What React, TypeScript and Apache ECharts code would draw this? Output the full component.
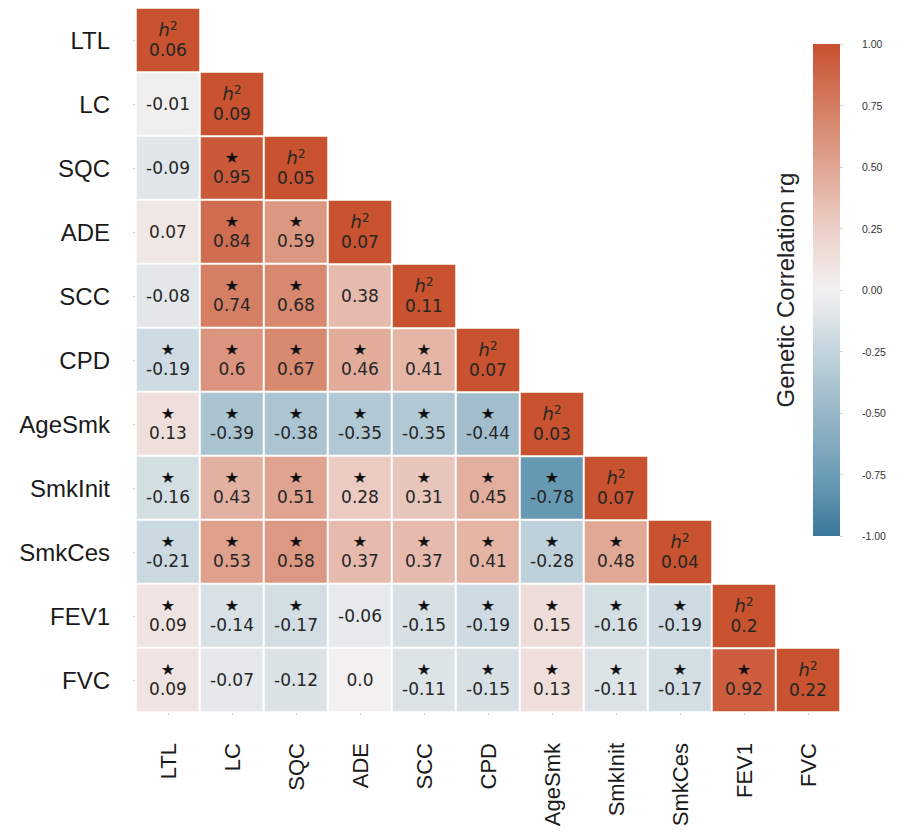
import React, { useEffect, useRef } from "react";
import * as echarts from "echarts";

const categories = ["LTL", "LC", "SQC", "ADE", "SCC", "CPD", "AgeSmk", "SmkInit", "SmkCes", "FEV1", "FVC"];
const heritability = [0.06, 0.09, 0.05, 0.07, 0.11, 0.07, 0.03, 0.07, 0.04, 0.2, 0.22];

// Lower-triangle genetic correlations, row by row (row i has i values: columns 0..i-1)
const rgRows: number[][] = [
  [],
  [-0.01],
  [-0.09, 0.95],
  [0.07, 0.84, 0.59],
  [-0.08, 0.74, 0.68, 0.38],
  [-0.19, 0.6, 0.67, 0.46, 0.41],
  [0.13, -0.39, -0.38, -0.35, -0.35, -0.44],
  [-0.16, 0.43, 0.51, 0.28, 0.31, 0.45, -0.78],
  [-0.21, 0.53, 0.58, 0.37, 0.37, 0.41, -0.28, 0.48],
  [0.09, -0.14, -0.17, -0.06, -0.15, -0.19, 0.15, -0.16, -0.19],
  [0.09, -0.07, -0.12, 0.0, -0.11, -0.15, 0.13, -0.11, -0.17, 0.92],
];

// Significance stars (1 = starred)
const sigRows: number[][] = [
  [],
  [0],
  [0, 1],
  [0, 1, 1],
  [0, 1, 1, 0],
  [1, 1, 1, 1, 1],
  [1, 1, 1, 1, 1, 1],
  [1, 1, 1, 1, 1, 1, 1],
  [1, 1, 1, 1, 1, 1, 1, 1],
  [1, 1, 1, 0, 1, 1, 1, 1, 1],
  [1, 0, 0, 0, 1, 1, 1, 1, 1, 1],
];

const colorbarTicks = [-1, -0.75, -0.5, -0.25, 0, 0.25, 0.5, 0.75, 1];
const paletteColors = ["#3c789a", "#6d9db6", "#98b7c7", "#c3d5de", "#f2f0f0", "#ecd0c8", "#e0a592", "#d47d62", "#c8502f"];
const diagColor = "#c9522f";

const fmt = (v: number) => (Number.isInteger(v) ? v.toFixed(1) : String(v));

export default function App() {
  const ref = useRef<HTMLDivElement>(null);

  useEffect(() => {
    if (!ref.current) return;
    const chart = echarts.init(ref.current, undefined, { renderer: "svg" });

    const offDiag: any[] = [];
    rgRows.forEach((row, i) => {
      row.forEach((v, j) => {
        const star = sigRows[i][j] === 1;
        offDiag.push({
          value: [j, i, v],
          label: { formatter: star ? `{star|★}\n{num|${fmt(v)}}` : `{num|${fmt(v)}}` },
        });
      });
    });
    const diag = heritability.map((h, i) => ({
      value: [i, i, h],
      label: { formatter: `{h|h}{sup|2}\n{num|${fmt(h)}}` },
    }));

    const rich = {
      star: { fontSize: 16, lineHeight: 18, color: "#111", fontFamily: "DejaVu Sans" },
      num: { fontSize: 17, lineHeight: 21, color: "#262626", fontFamily: "DejaVu Sans" },
      h: { fontSize: 18, lineHeight: 20, color: "#262626", fontStyle: "italic", fontFamily: "DejaVu Sans" },
      sup: { fontSize: 12, lineHeight: 12, color: "#262626", fontFamily: "DejaVu Sans", verticalAlign: "top" },
    };

    const cbTop = 44, cbHeight = 492, cbLeft = 813, cbWidth = 27;

    chart.setOption({
      animation: false,
      backgroundColor: "#ffffff",
      grid: [
        { left: 136, top: 8, width: 704, height: 704, outerBoundsMode: "none", containLabel: false },
        { left: cbLeft, top: cbTop, width: cbWidth, height: cbHeight, outerBoundsMode: "none", containLabel: false },
      ],
      xAxis: [
        {
          type: "category",
          data: categories,
          gridIndex: 0,
          position: "bottom",
          axisLine: { show: false },
          axisTick: { show: true, length: 3, alignWithLabel: true, lineStyle: { color: "#c8c8c8" } },
          axisLabel: { rotate: 90, fontSize: 22, color: "#1a1a1a", fontFamily: "Liberation Sans, Arial", margin: 31, interval: 0 },
          splitLine: { show: false },
        },
        { type: "category", data: [""], gridIndex: 1, show: false },
      ],
      yAxis: [
        {
          type: "category",
          data: categories,
          gridIndex: 0,
          inverse: true,
          axisLine: { show: false },
          axisTick: { show: true, length: 3, alignWithLabel: true, lineStyle: { color: "#c8c8c8" } },
          axisLabel: { fontSize: 24, color: "#1a1a1a", fontFamily: "Liberation Sans, Arial", margin: 26, interval: 0 },
          splitLine: { show: false },
        },
        {
          type: "value",
          gridIndex: 1,
          min: colorbarTicks[0],
          max: colorbarTicks[colorbarTicks.length - 1],
          interval: 0.25,
          position: "right",
          axisLine: { show: false },
          axisTick: { show: true, length: 3, inside: false, lineStyle: { color: "#d0d0d0" } },
          axisLabel: { formatter: (v: number) => v.toFixed(2), fontSize: 10.5, color: "#333", fontFamily: "Liberation Sans, Arial", margin: 22 },
          splitLine: { show: false },
        },
      ],
      visualMap: [
        {
          show: false,
          type: "continuous",
          min: -1,
          max: 1,
          seriesIndex: 0,
          dimension: 2,
          inRange: { color: paletteColors },
        },
        {
          show: false,
          type: "continuous",
          min: 0,
          max: 1,
          seriesIndex: 1,
          dimension: 2,
          inRange: { color: [diagColor, diagColor] },
        },
      ],
      graphic: [
        {
          type: "rect",
          shape: { x: cbLeft, y: cbTop, width: cbWidth, height: cbHeight },
          style: {
            fill: new echarts.graphic.LinearGradient(
              0, 0, 0, 1,
              paletteColors.slice().reverse().map((c, k) => ({ offset: k / (paletteColors.length - 1), color: c }))
            ),
          },
          z: 1,
        },
        {
          type: "text",
          x: 785,
          y: 290,
          rotation: Math.PI / 2,
          style: {
            text: "Genetic Correlation rg",
            fontSize: 24,
            fontFamily: "Liberation Sans, Arial",
            fill: "#222",
            align: "center",
            verticalAlign: "middle",
          },
        },
      ],
      series: [
        {
          type: "heatmap",
          xAxisIndex: 0,
          yAxisIndex: 0,
          data: offDiag,
          itemStyle: { borderColor: "#ffffff", borderWidth: 2 },
          label: { show: true, rich, align: "center", verticalAlign: "middle" },
          emphasis: { disabled: true },
        },
        {
          type: "heatmap",
          xAxisIndex: 0,
          yAxisIndex: 0,
          data: diag,
          itemStyle: { borderColor: "#ffffff", borderWidth: 2 },
          label: { show: true, rich, align: "center", verticalAlign: "middle" },
          emphasis: { disabled: true },
        },
      ],
    });

    return () => chart.dispose();
  }, []);

  return <div ref={ref} style={{ position: "fixed", left: 0, top: 0, width: 897, height: 832 }} />;
}
